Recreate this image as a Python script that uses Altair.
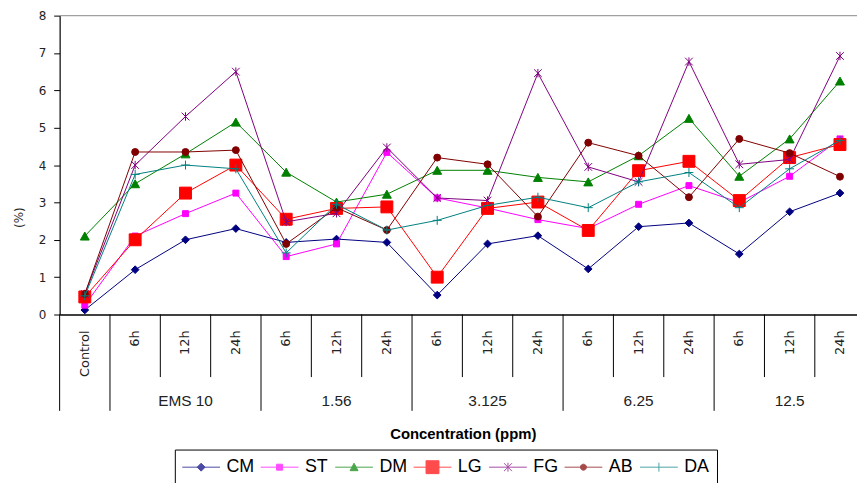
import altair as alt
import pandas as pd

# ---------------- data ----------------
concentrations = ["Control", "EMS 10", "1.56", "3.125", "6.25", "12.5"]
times = ["6h", "12h", "24h"]
series_names = ["CM", "ST", "DM", "LG", "FG", "AB", "DA"]
series_colors = ["#000080", "#FF00FF", "#008000", "#FF0000", "#800080", "#800000", "#008080"]

cm = [0.12, 1.2, 2.0, 2.3, 1.93, 2.02, 1.93, 0.52, 1.89, 2.11, 1.22, 2.35, 2.45, 1.62, 2.75, 3.25]
st = [0.25, 2.1, 2.7, 3.25, 1.55, 1.89, 4.34, 3.12, 2.85, 2.54, 2.3, 2.95, 3.45, 3.0, 3.7, 4.7]
dm = [2.1, 3.5, 4.3, 5.15, 3.81, 3.01, 3.22, 3.86, 3.86, 3.67, 3.55, 4.25, 5.25, 3.7, 4.7, 6.25]
lg = [0.47, 2.0, 3.25, 4.0, 2.55, 2.84, 2.88, 1.0, 2.84, 3.01, 2.25, 3.85, 4.1, 3.05, 4.2, 4.55]
fg = [0.55, 4.0, 5.3, 6.5, 2.48, 2.71, 4.47, 3.12, 3.05, 6.46, 3.95, 3.55, 6.77, 4.02, 4.15, 6.92]
ab = [0.55, 4.35, 4.35, 4.4, 1.89, 2.86, 2.26, 4.2, 4.02, 2.62, 4.6, 4.25, 3.14, 4.7, 4.32, 3.69]
da = [0.5, 3.75, 4.0, 3.9, 1.65, 2.95, 2.26, 2.52, 2.92, 3.14, 2.86, 3.55, 3.8, 2.86, 3.9, 4.66]
series_values = [cm, st, dm, lg, fg, ab, da]

cat_group = ["Control"] + [c for c in concentrations[1:] for t in times]
cat_label = ["Control"] + [t for c in concentrations[1:] for t in times]
n_cat = len(cat_label)

# ---------------- styles ----------------
plot_shapes = [
    ("M0,-1L1,0L0,1L-1,0Z", 60),           # diamond
    ("M-1,-1H1V1H-1Z", 36),                # small square
    ("M0,-0.9L1,0.9H-1Z", 80),             # triangle
    ("M-1,-1H1V1H-1Z", 144),               # big square
    ("M-1,-1L1,1M-1,1L1,-1M0,-1.1V1.1", 60),  # asterisk
    ("circle", 49),                        # circle
    ("M-1,0H1M0,-1V1", 81),                # plus
]
legend_paths = [
    "M-1,0H2.8M0.9,-0.4L1.3,0L0.9,0.4L0.5,0Z",
    "M-1,0H2.8M0.6,-0.3H1.2V0.3H0.6Z",
    "M-1,0H2.8M0.9,-0.4L1.3,0.35H0.5Z",
    "M-1,0H2.8M0.25,-0.65H1.55V0.65H0.25Z",
    "M-1,0H2.8M0.5,-0.4L1.3,0.4M0.5,0.4L1.3,-0.4M0.9,-0.45V0.45",
    "M-1,0H2.8M1.2,0A0.3,0.3,0,1,1,0.6,0A0.3,0.3,0,1,1,1.2,0Z",
    "M-1,0H2.8M0.9,-0.45V0.45",
]

W, H = 803, 301
band = 50.7
x_min = -0.5
x_max = x_min + W / band

rows = []
for s, vals in zip(series_names, series_values):
    for i, v in enumerate(vals):
        rows.append({"series": s, "idx": i, "value": v})
df = pd.DataFrame(rows)

# category dividers
div_rows = []
for k in range(n_cat + 1):
    b = k - 0.5
    if b > x_max:
        continue
    if k == 0 or k == n_cat or cat_group[k - 1] != cat_group[k]:
        kind = "long"
    else:
        kind = "short"
    div_rows.append({"b": b, "kind": kind})
div_df = pd.DataFrame(div_rows)

lab_df = pd.DataFrame({"idx": list(range(n_cat)), "label": cat_label})
grp_rows = []
for c in concentrations[1:]:
    ids = [i for i, g in enumerate(cat_group) if g == c]
    grp_rows.append({"idx": sum(ids) / len(ids), "label": c})
grp_df = pd.DataFrame(grp_rows)

xscale = alt.Scale(domain=[x_min, x_max], nice=False, zero=False)
yscale = alt.Scale(domain=[0, 8], nice=False, zero=True)

x_axis = alt.Axis(labels=False, ticks=False, grid=False, domainColor="black",
                  domainWidth=1.5, title="Concentration (ppm)",
                  titleFont="Liberation Sans", titleFontSize=15, titleFontWeight="bold",
                  titleColor="black", titleX=406, titleY=120,
                  titleAlign="center", titleBaseline="middle")
y_axis = alt.Axis(values=[0, 1, 2, 3, 4, 5, 6, 7, 8], grid=False, domainColor="black",
                  domainWidth=1.2, labelOverlap=False,
                  tickColor="black", tickSize=6, labelPadding=8,
                  labelFont="DejaVu Sans", labelFontSize=12, labelColor="#222222",
                  title="(%)", titleAngle=270, titleX=-41, titleY=203,
                  titleFont="DejaVu Sans", titleFontSize=12, titleFontWeight="normal",
                  titleColor="#222222", titleAlign="center", titleBaseline="middle")

layers = []

# top border line
layers.append(
    alt.Chart(pd.DataFrame({"v": [8]})).mark_rule(color="#A0A0A0", strokeWidth=1.5)
    .encode(y=alt.Y("v:Q", scale=yscale, axis=y_axis))
)

# series lines + markers
for s, col, (shp, sz) in zip(series_names, series_colors, plot_shapes):
    base = alt.Chart(df).transform_filter(alt.datum.series == s)
    layers.append(
        base.mark_line(color=col, strokeWidth=1).encode(
            x=alt.X("idx:Q", scale=xscale, axis=x_axis),
            y=alt.Y("value:Q", scale=yscale, axis=y_axis),
            order="idx:Q",
        )
    )
    layers.append(
        base.mark_point(filled=True, fill=col, stroke=col, strokeWidth=1, opacity=1,
                        shape=shp, size=sz).encode(
            x=alt.X("idx:Q", scale=xscale, axis=x_axis),
            y=alt.Y("value:Q", scale=yscale, axis=y_axis),
        )
    )

# legend carrier layer (no marks drawn: every row filtered out; scales have explicit domains)
leg_spec = dict(title=None, orient="none", legendX=116, legendY=437, direction="horizontal",
                symbolSize=400, symbolStrokeWidth=1, labelFont="Liberation Sans",
                labelFontSize=18, labelColor="black", labelOffset=24, columnPadding=4,
                padding=7, strokeColor="black", fillColor="white", labelLimit=0)
layers.append(
    alt.Chart(df).transform_filter("false").mark_point(filled=True).encode(
        x=alt.X("idx:Q", scale=xscale, axis=x_axis),
        y=alt.Y("value:Q", scale=yscale, axis=y_axis),
        color=alt.Color("series:N", scale=alt.Scale(domain=series_names, range=series_colors),
                        legend=alt.Legend(**leg_spec)),
        stroke=alt.Stroke("series:N", scale=alt.Scale(domain=series_names, range=series_colors),
                          legend=alt.Legend(**leg_spec)),
        shape=alt.Shape("series:N", scale=alt.Scale(domain=series_names, range=legend_paths),
                        legend=alt.Legend(**leg_spec)),
    )
)

# category dividers below axis
layers.append(
    alt.Chart(div_df).transform_filter(alt.datum.kind == "short")
    .mark_rule(color="black", strokeWidth=1)
    .encode(x=alt.X("b:Q", scale=xscale, axis=x_axis), y=alt.value(H), y2=alt.value(H + 63))
)
layers.append(
    alt.Chart(div_df).transform_filter(alt.datum.kind == "long")
    .mark_rule(color="black", strokeWidth=1)
    .encode(x=alt.X("b:Q", scale=xscale, axis=x_axis), y=alt.value(H), y2=alt.value(H + 97))
)

# hour / control labels (rotated)
layers.append(
    alt.Chart(lab_df).mark_text(angle=270, align="right", baseline="middle",
                                font="DejaVu Sans", fontSize=13, color="#222222")
    .encode(x=alt.X("idx:Q", scale=xscale, axis=x_axis), y=alt.value(H + 16), text="label:N")
)
# concentration group labels
layers.append(
    alt.Chart(grp_df).mark_text(align="center", baseline="middle",
                                font="Liberation Sans", fontSize=15.5, color="#222222")
    .encode(x=alt.X("idx:Q", scale=xscale, axis=x_axis), y=alt.value(H + 87), text="label:N")
)

chart = alt.layer(*layers).properties(
    width=W, height=H,
    autosize=alt.AutoSizeParams(type="none"),
    padding={"left": 52, "top": 6, "right": 0, "bottom": 168},
    background="white",
).configure_view(stroke=None)

chart.save("out.html", embed_options={"renderer": "svg", "actions": False})
